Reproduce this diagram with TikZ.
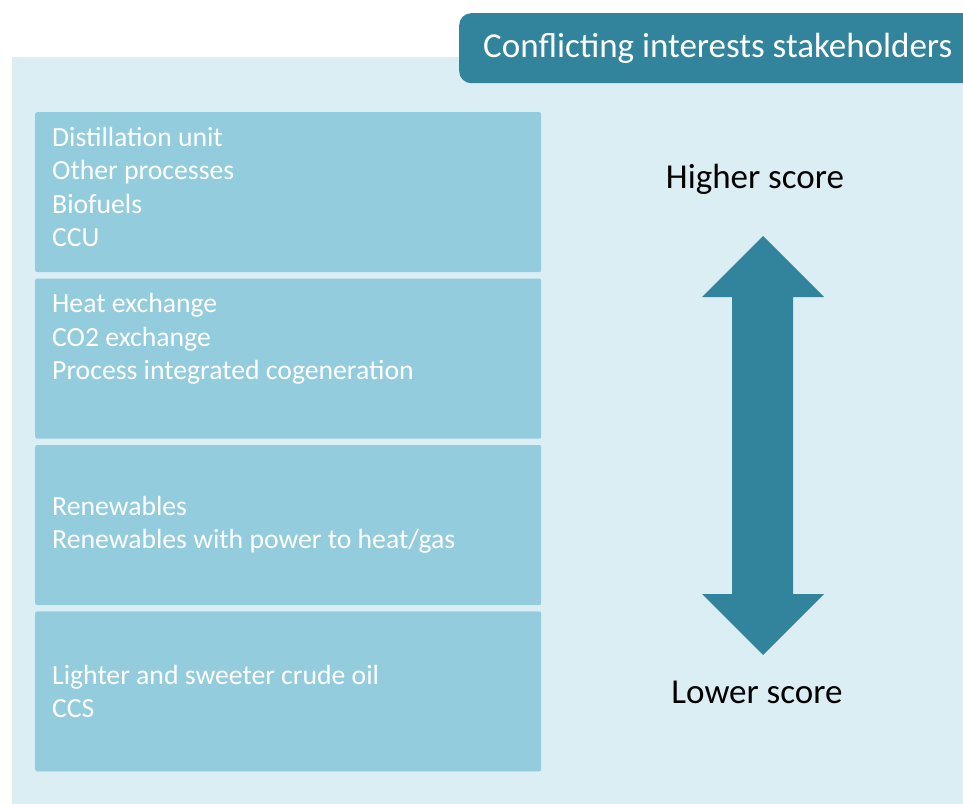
\documentclass[tikz,border=0pt]{standalone}
\usepackage{fontspec}
\setmainfont{Carlito}
\usepackage{xcolor}
\usepackage{tikz}
\usetikzlibrary{positioning}
\definecolor{panelbg}{HTML}{DBEEF4}
\definecolor{rowblue}{HTML}{93CDDD}
\definecolor{tealdark}{HTML}{31849B}
\tikzset{
  panel/.style={rectangle, fill=panelbg, inner sep=0pt, anchor=north west},
  tab/.style={rectangle, rounded corners=12pt, fill=tealdark, text=white, font=\fontsize{35}{42}\selectfont, minimum height=70pt, inner xsep=24pt, inner ysep=0pt, anchor=north west},
  row/.style={rectangle, rounded corners=2pt, fill=rowblue, minimum width=506pt, minimum height=160pt, inner sep=0pt},
  rowtext/.style={text=white, align=left, inner sep=0pt, font=\fontsize{27.7}{33.5}\selectfont},
  score/.style={text=black, inner sep=0pt, font=\fontsize{35}{42}\selectfont, anchor=base},
}

\begin{document}
\begin{tikzpicture}[x=1pt, y=-1pt,
  bigarrow/.style={fill=tealdark}]
\useasboundingbox (0,0) rectangle (963,803);
\node[panel, minimum width=970pt, minimum height=760pt] (panel) at (12,57) {};
\node[tab] (title) at (459,13) {Conflicting interests stakeholders};

\node[row, anchor=north west] (r1) at (35,112) {};
\node[row, below=6pt of r1] (r2) {};
\node[row, below=6pt of r2] (r3) {};
\node[row, below=6pt of r3] (r4) {};

\node[rowtext, below right=15pt and 17pt of r1.north west] (t1) {Distillation unit\\Other processes\\Biofuels\\CCU};
\node[rowtext, below right=15pt and 17pt of r2.north west] (t2) {Heat exchange\\CO2 exchange\\Process integrated cogeneration};
\node[rowtext, right=17pt of r3.west] (t3) {Renewables\\Renewables with power to heat/gas};
\node[rowtext, right=17pt of r4.west] (t4) {Lighter and sweeter crude oil\\CCS};

\node[score] (hi) at (755,188) {Higher score};
\node[score] (lo) at (757,703) {Lower score};

\fill[bigarrow] (763,236) -- (824,297) -- (793,297) -- (793,594) -- (824,594) -- (763,655)
  -- (702,594) -- (732,594) -- (732,297) -- (702,297) -- cycle;
\end{tikzpicture}
\end{document}
